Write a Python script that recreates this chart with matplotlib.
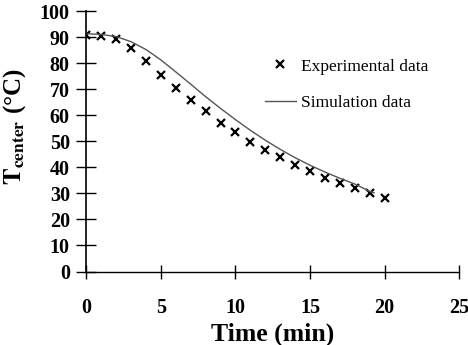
#!/usr/bin/env python3
"""Center temperature vs time: experimental points and simulation curve."""
import matplotlib
matplotlib.use("Agg")
import matplotlib.pyplot as plt

plt.rcParams["font.family"] = ["Liberation Serif", "DejaVu Serif"]
plt.rcParams["mathtext.fontset"] = "stix"

# experimental data (min, degC)
exp_time = [0, 1, 2, 3, 4, 5, 6, 7, 8, 9, 10, 11, 12, 13, 14, 15, 16, 17, 18, 19, 20]
exp_temp = [90.9, 90.3, 89.2, 85.8, 81.0, 75.6, 70.5, 65.8, 61.5, 57.2, 53.6,
            49.8, 46.6, 43.8, 40.9, 38.4, 36.0, 33.9, 32.0, 30.1, 28.2]

# simulation curve (min, degC)
sim_time = [0, 1, 2, 3, 4, 5, 6, 7, 8, 9, 10, 11, 12, 13, 14, 15, 16, 17, 18, 19, 19.3]
sim_temp = [91.3, 91.0, 90.2, 88.2, 85.2, 81.2, 76.6, 71.9, 67.1, 62.6, 58.3,
            54.2, 50.4, 46.9, 43.7, 40.8, 38.2, 35.8, 33.6, 30.8, 30.2]

x_ticks = [0, 5, 10, 15, 20, 25]
y_ticks = [0, 10, 20, 30, 40, 50, 60, 70, 80, 90, 100]

fig = plt.figure(figsize=(4.68, 3.45), dpi=100)
ax = fig.add_axes([0.1848, 0.2130, 0.796, 0.755])

ax.plot(exp_time, exp_temp, linestyle="none", marker="x", markersize=6,
        markeredgewidth=1.6, color="black", label="Experimental data")
ax.plot(sim_time, sim_temp, color="#555555", linewidth=1.0, label="Simulation data")

ax.set_xlim(0, 25)
ax.set_ylim(0, 100)
ax.set_xticks(x_ticks)
ax.set_yticks(y_ticks)
ax.spines["top"].set_visible(False)
ax.spines["right"].set_visible(False)
ax.spines["left"].set_linewidth(1.2)
ax.spines["bottom"].set_linewidth(1.0)
ax.tick_params(axis="y", direction="inout", length=14, width=1.0, pad=5)
ax.tick_params(axis="x", direction="inout", length=10, width=1.0, pad=14)
for lab in ax.get_xticklabels() + ax.get_yticklabels():
    lab.set_fontweight("bold")
    lab.set_fontsize(14.5)

ax.set_xlabel("Time (min)", fontsize=18.5, fontweight="bold")
ax.xaxis.set_label_coords(0.5, -0.196)
ax.set_ylabel(r"$\mathbf{T}_{\mathbf{center}}$ (°C)", fontsize=18, fontweight="bold")
ax.yaxis.set_label_coords(-0.158, 0.555)

ax.legend(loc="upper left", bbox_to_anchor=(0.46, 0.845), frameon=False,
          fontsize=12.5, handlelength=1.8, handletextpad=0.3, labelspacing=1.15,
          borderaxespad=0)

fig.savefig("out.png", dpi=100)
